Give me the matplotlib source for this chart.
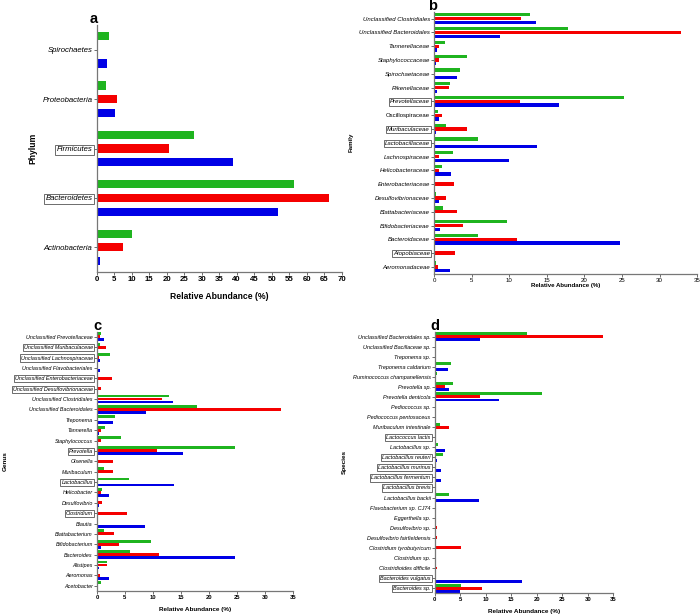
import numpy as np
import matplotlib.pyplot as plt

plt.rcParams['font.family'] = ['Liberation Sans', 'DejaVu Sans']

GREEN = '#1fb41f'
RED = '#f50000'
BLUE = '#0000e6'

# ---- panel a: phylum ----
phylum = ['Spirochaetes', 'Proteobacteria', 'Firmicutes', 'Bacteroidetes', 'Actinobacteria']
phylum_green = [3.5, 2.7, 27.7, 56.4, 10.1]
phylum_red = [0.0, 5.9, 20.7, 66.5, 7.5]
phylum_blue = [3.0, 5.2, 38.9, 51.9, 0.9]
phylum_boxed = ['Firmicutes', 'Bacteroidetes']

# ---- panel b: family ----
family = ['Unclassified Clostridiales', 'Unclassified Bacteroidales', 'Tannerellaceae',
          'Staphylococcaceae', 'Spirochaetaceae', 'Rikenellaceae', 'Prevotellaceae',
          'Oscillospiraceae', 'Muribaculaceae', 'Lactobacillaceae', 'Lachnospiraceae',
          'Helicobacteraceae', 'Enterobacteriaceae', 'Desulfovibrionaceae',
          'Blattabacteriaceae', 'Bifidobacteriaceae', 'Bacteroidaceae', 'Atopobiaceae',
          'Aeromonadaceae']
family_green = [12.8, 17.8, 1.5, 4.4, 3.5, 2.1, 25.2, 0.5, 1.6, 5.9, 2.5, 1.0, 0.0, 0.2,
                1.2, 9.7, 5.9, 0.0, 0.2]
family_red = [11.6, 32.8, 0.6, 0.6, 0.0, 2.0, 11.5, 1.1, 4.4, 0.0, 0.6, 0.6, 2.7, 1.6,
              3.1, 3.9, 11.0, 2.8, 0.5]
family_blue = [13.6, 8.8, 0.4, 0.2, 3.0, 0.4, 16.6, 0.6, 0.2, 13.7, 10.0, 2.2, 0.0, 0.6,
               0.0, 0.8, 24.7, 0.0, 2.1]
family_boxed = ['Prevotellaceae', 'Muribaculaceae', 'Lactobacillaceae', 'Atopobiaceae']

# ---- panel c: genus ----
genus = ['Unclassified Prevotellaceae', 'Unclassified Muribaculaceae',
         'Unclassified Lachnospiraceae', 'Unclassified Flavobacteriales',
         'Unclassified Enterobacteriaceae', 'Unclassified Desulfovibrionaceae',
         'Unclassified Clostridiales', 'Unclassified Bacteroidales', 'Treponema',
         'Tannerella', 'Staphylococcus', 'Prevotella', 'Olsenella', 'Muribaculum',
         'Lactobacillus', 'Helicobacter', 'Desulfovibrio', 'Clostridium', 'Blautia',
         'Blattabacterium', 'Bifidobacterium', 'Bacteroides', 'Alistipes', 'Aeromonas',
         'Acetobacter']
genus_green = [0.65, 0.5, 2.3, 0.0, 0.0, 0.0, 12.9, 17.8, 3.3, 1.4, 4.2, 24.6, 0.0, 1.25,
               5.7, 0.95, 0.0, 0.0, 0.0, 1.2, 9.7, 5.9, 1.85, 0.1, 0.8]
genus_red = [0.5, 1.55, 0.3, 0.0, 2.6, 0.65, 11.6, 32.9, 0.0, 0.65, 0.65, 10.7, 2.8, 2.9,
             0.0, 0.65, 0.85, 5.4, 0.0, 3.1, 3.9, 11.1, 1.7, 0.5, 0.0]
genus_blue = [1.25, 0.0, 0.5, 0.5, 0.0, 0.0, 13.5, 8.8, 2.9, 0.35, 0.0, 15.3, 0.0, 0.0,
              13.7, 2.1, 0.4, 0.0, 8.5, 0.0, 0.65, 24.7, 0.3, 2.1, 0.0]
genus_boxed = ['Unclassified Muribaculaceae', 'Unclassified Lachnospiraceae',
               'Unclassified Enterobacteriaceae', 'Unclassified Desulfovibrionaceae',
               'Prevotella', 'Lactobacillus', 'Clostridium']

# ---- panel d: species ----
species = ['Unclassified Bacteroidales sp.', 'Unclassified Bacillaceae sp.', 'Treponema sp.',
           'Treponema caldarium', 'Ruminococcus champanellensis', 'Prevotella sp.',
           'Prevotella denticola', 'Pediococcus sp.', 'Pediococcus pentosaceus',
           'Muribaculum intestinale', 'Lactococcus lactis', 'Lactobacillus sp.',
           'Lactobacillus reuteri', 'Lactobacillus murinus', 'Lactobacillus fermentum',
           'Lactobacillus brevis', 'Lactobacillus backii', 'Flavobacterium sp. CJ74',
           'Eggerthella sp.', 'Desulfovibrio sp.', 'Desulfovibrio fairfieldensis',
           'Clostridium tyrobutyricum', 'Clostridium sp.', 'Clostridioides difficile',
           'Bacteroides vulgatus', 'Bacteroides sp.']
species_green = [18.0, 0.0, 0.2, 3.1, 0.4, 3.5, 21.1, 0.0, 0.1, 1.1, 0.26, 0.65, 1.57, 0.0,
                 0.26, 0.0, 2.75, 0.0, 0.0, 0.0, 0.0, 0.0, 0.0, 0.0, 0.25, 5.2]
species_red = [33.0, 0.0, 0.0, 0.0, 0.0, 2.0, 8.8, 0.0, 0.0, 2.8, 0.0, 0.0, 0.0, 0.0,
               0.0, 0.0, 0.0, 0.0, 0.1, 0.4, 0.45, 5.2, 0.1, 0.4, 0.0, 9.2]
species_blue = [8.8, 0.0, 0.2, 2.55, 0.0, 2.75, 12.6, 0.0, 0.0, 0.0, 0.0, 2.0, 0.5, 1.2,
                1.25, 0.0, 8.6, 0.0, 0.0, 0.0, 0.3, 0.0, 0.0, 0.0, 17.1, 4.9]
species_boxed = ['Lactococcus lactis', 'Lactobacillus reuteri', 'Lactobacillus murinus',
                 'Lactobacillus fermentum', 'Lactobacillus brevis', 'Bacteroides vulgatus',
                 'Bacteroides sp.']

upright = ['Oscillospiraceae']


def panel(ax, cats, g, r, b, boxed, xmax, step, ylabel,
          off, h, fs, lab_fs, tick_fs, tick_bold, lab_pad):
    n = len(cats)
    y = np.arange(n)[::-1]
    ax.barh(y + off, g, height=h, color=GREEN)
    ax.barh(y, r, height=h, color=RED)
    ax.barh(y - off, b, height=h, color=BLUE)
    ax.set_ylim(-0.5, n - 0.5)
    ax.set_xlim(0, xmax)
    ax.set_xticks(np.arange(0, xmax + 1, step))
    ax.set_yticks(y)
    ax.set_yticklabels(cats, fontsize=fs)
    for t in ax.get_yticklabels():
        if t.get_text() not in upright:
            t.set_style('italic')
        if t.get_text() in boxed:
            t.set_bbox(dict(boxstyle='square,pad=0.2', fc='white', ec='#555555', lw=0.6))
    for lab in ax.get_xticklabels():
        lab.set_fontsize(tick_fs)
        if tick_bold:
            lab.set_fontweight('bold')
    for s in ['top', 'right']:
        ax.spines[s].set_visible(False)
    for s in ['left', 'bottom']:
        ax.spines[s].set_color('#777777')
        ax.spines[s].set_linewidth(0.9)
    ax.tick_params(length=2, width=0.6, color='#555555', pad=1)
    ax.set_xlabel('Relative Abundance (%)', fontsize=lab_fs, fontweight='bold', labelpad=lab_pad)
    ax.set_ylabel(ylabel, fontsize=lab_fs, fontweight='bold')


fig = plt.figure(figsize=(7, 6.14), dpi=100)

ax_a = fig.add_axes([0.138, 0.557, 0.350, 0.402])
panel(ax_a, phylum, phylum_green, phylum_red, phylum_blue, phylum_boxed, 70, 5, 'Phylum',
      0.277, 0.167, 5.6, 6.2, 5.6, True, 6)

ax_b = fig.add_axes([0.620, 0.554, 0.376, 0.427])
panel(ax_b, family, family_green, family_red, family_blue, family_boxed, 35, 5, 'Family',
      0.275, 0.24, 4.3, 4.4, 4.4, False, 0)

ax_c = fig.add_axes([0.1386, 0.0375, 0.2796, 0.4225])
panel(ax_c, genus, genus_green, genus_red, genus_blue, genus_boxed, 35, 5, 'Genus',
      0.29, 0.28, 3.9, 4.6, 4.2, True, 5)

ax_d = fig.add_axes([0.621, 0.034, 0.255, 0.426])
panel(ax_d, species, species_green, species_red, species_blue, species_boxed, 35, 5, 'Species',
      0.3, 0.29, 4.0, 4.6, 4.2, True, 5)

# panel letters
for letter, px, py in [('a', 90, 23), ('b', 428, 10), ('c', 93, 330), ('d', 430, 330)]:
    fig.text(px / 700, 1 - py / 614, letter, fontsize=10.5, fontweight='bold',
             ha='left', va='baseline')

fig.savefig('out.png', dpi=100)
